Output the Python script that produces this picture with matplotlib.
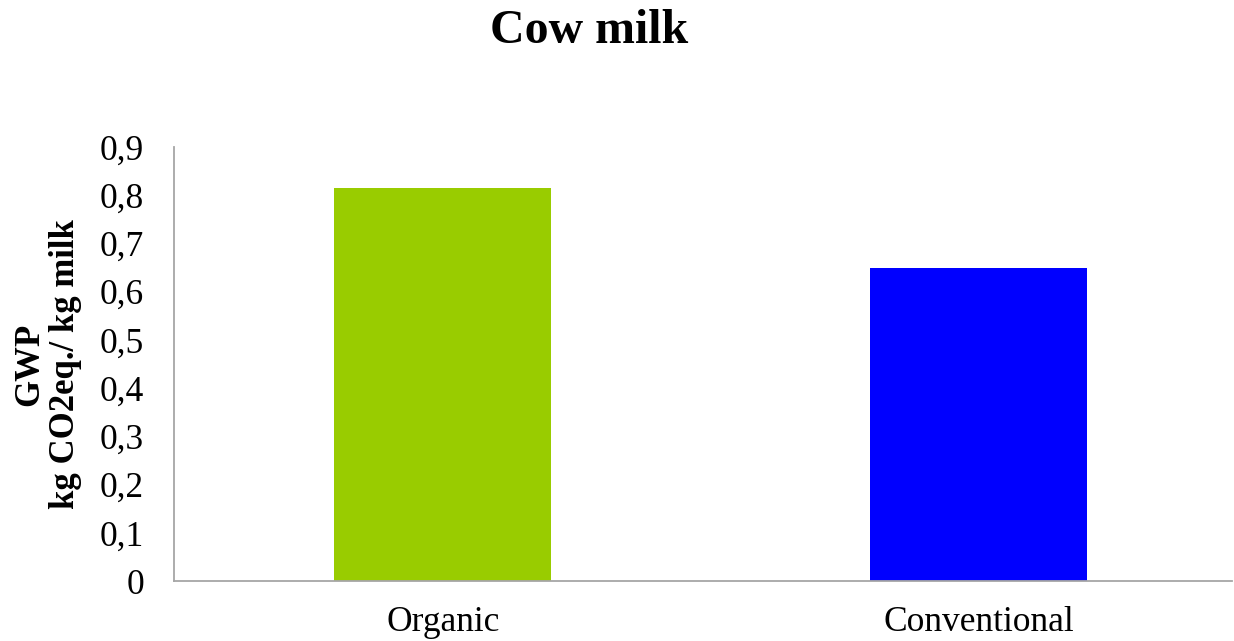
import matplotlib.pyplot as plt
from matplotlib.ticker import FuncFormatter

categories = ['Organic', 'Conventional']
gwp = [0.815, 0.65]
colors = ['#99cc00', '#0000ff']

plt.rcParams['font.family'] = 'Liberation Serif'

fig = plt.figure(figsize=(12.34, 6.41), dpi=100)
ax = fig.add_axes([0.141, 0.0936, 0.857, 0.677])

x = range(len(categories))
ax.bar(x, gwp, width=0.405, color=colors)

ax.set_xlim(-0.502, 1.472)
ax.set_ylim(0, 0.9)
ax.set_yticks([i / 10 for i in range(10)])
ax.yaxis.set_major_formatter(FuncFormatter(lambda v, p: '0' if v == 0 else '{:.1f}'.format(v).replace('.', ',')))
ax.set_xticks(list(x))
ax.set_xticklabels(categories)
ax.tick_params(axis='both', length=0, labelsize=25.5, colors='black')
ax.tick_params(axis='x', pad=18)
ax.tick_params(axis='y', pad=21.5)

for side in ['top', 'right']:
    ax.spines[side].set_visible(False)
for side in ['left', 'bottom']:
    ax.spines[side].set_color('#a6a6a6')
    ax.spines[side].set_linewidth(1.3)

ax.set_ylabel('GWP\nkg CO2eq./ kg milk', fontsize=25, fontweight='bold',
              labelpad=13, linespacing=1.1)
fig.text(0.4777, 0.9329, 'Cow milk', ha='center', va='baseline', fontsize=34.5, fontweight='bold')

fig.savefig('out.png', dpi=100)
